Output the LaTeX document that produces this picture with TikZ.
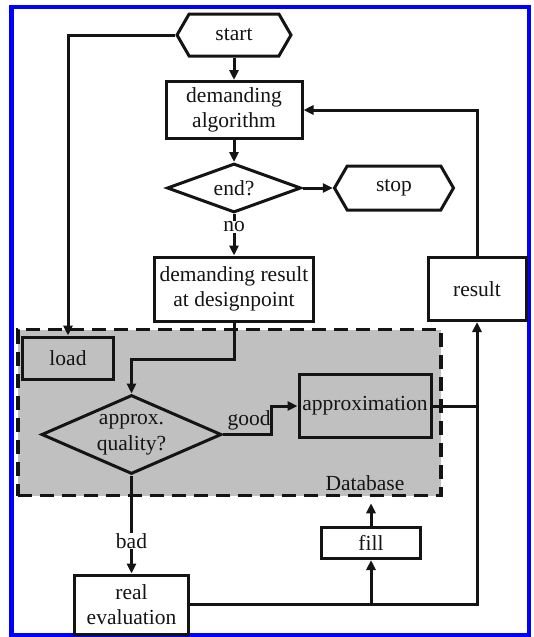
\documentclass[tikz,border=0pt]{standalone}
\usepackage{fontspec}
\setmainfont{Liberation Serif}
\usetikzlibrary{arrows.meta,shapes.geometric,shapes.symbols}
\definecolor{dbgray}{RGB}{192,192,192}
\definecolor{ink}{RGB}{20,20,20}
\begin{document}
\begin{tikzpicture}[x=1pt,y=-1pt,
  font=\fontsize{21.5}{25.5}\selectfont, text=ink,
  every node/.style={inner sep=0pt, align=center},
  box/.style={draw=ink, line width=3pt, fill=white},
  gbox/.style={draw=ink, line width=3pt, fill=dbgray},
  hexa/.style={draw=ink, line width=3pt, fill=white, shape=signal, signal to=east and west, signal pointer angle=120},
  dia/.style={draw=ink, line width=3pt, shape=diamond},
  conn/.style={draw=ink, line width=3pt},
  arr/.style={conn, -{Triangle[length=10pt,width=9pt]}},
  lbl/.style={fill=white, inner sep=1pt}
]
\useasboundingbox (0,0) rectangle (533,637);
\fill[white] (0,0) rectangle (533,637);
\draw[blue, line width=4.5pt] (11.5,7) rectangle (529,635);

% database region
\node[draw=ink, dashed, dash pattern=on 14pt off 8pt, line width=3.5pt, fill=dbgray,
      minimum width=423pt, minimum height=166pt] (db) at (229.4,412.5) {};
\node (dblabel) at (365,483) {Database};

% main flow
\node[hexa, minimum width=114pt, minimum height=42pt] (start) at (234,35) {start};
\node[box, minimum width=136pt, minimum height=57pt] (alg) at (234,110) {demanding\\algorithm};
\node[dia, fill=white, minimum width=134pt, minimum height=49pt,
      label={center:end?}] (end) at (234,188) {};
\node[hexa, minimum width=119pt, minimum height=44pt] (stop) at (394,188) {stop};
\node[lbl] (no) at (234,227) {no};
\node[box, minimum width=159pt, minimum height=64pt] (dr) at (234,289) {demanding result\\at designpoint};
\node[box, minimum width=98pt, minimum height=63pt] (result) at (477,289) {result};

% inside the database
\node[gbox, minimum width=91pt, minimum height=42pt] (load) at (68,358) {load};
\node[dia, fill=dbgray, minimum width=180pt, minimum height=79pt,
      label={[align=center]center:approx.\\quality?}] (q) at (131.5,434.5) {};
\node[gbox, minimum width=132pt, minimum height=63pt] (approx) at (365,406) {approximation};
\node (good) at (249,420) {good};
\coordinate (gk) at (271,406);

% below the database
\node (bad) at (131.5,541) {bad};
\node[box, minimum width=114pt, minimum height=59pt] (real) at (131.5,604.5) {real\\evaluation};
\node[box, minimum width=99pt, minimum height=31pt] (fill) at (371,543) {fill};

% connectors
\draw[arr] (start.west) -| (load.north);
\draw[arr] (start.south) -- (alg.north);
\draw[arr] (alg.south) -- (end.north);
\draw[arr] (end.east) -- (stop.west);
\draw[conn] (end.south) -- (no.north);
\draw[arr] (no.south) -- (dr.north);
\draw[arr] (result.north) |- (alg.east);
\draw[arr] (dr.south) -- ++(0,37) -| (q.north);
\draw[arr] (q.east) -| (gk) -- (approx.west);
\draw[conn] (approx.east) -- (approx.east -| result.south);
\draw[conn] (q.south) -- (bad.north);
\draw[arr] (bad.south) -- (real.north);
\draw[arr] (real.east) -| (result.south);
\draw[arr] (fill.south |- real.east) -- (fill.south);
\draw[arr, shorten >=6pt] (fill.north) -- (fill.north |- db.south);
\end{tikzpicture}
\end{document}
